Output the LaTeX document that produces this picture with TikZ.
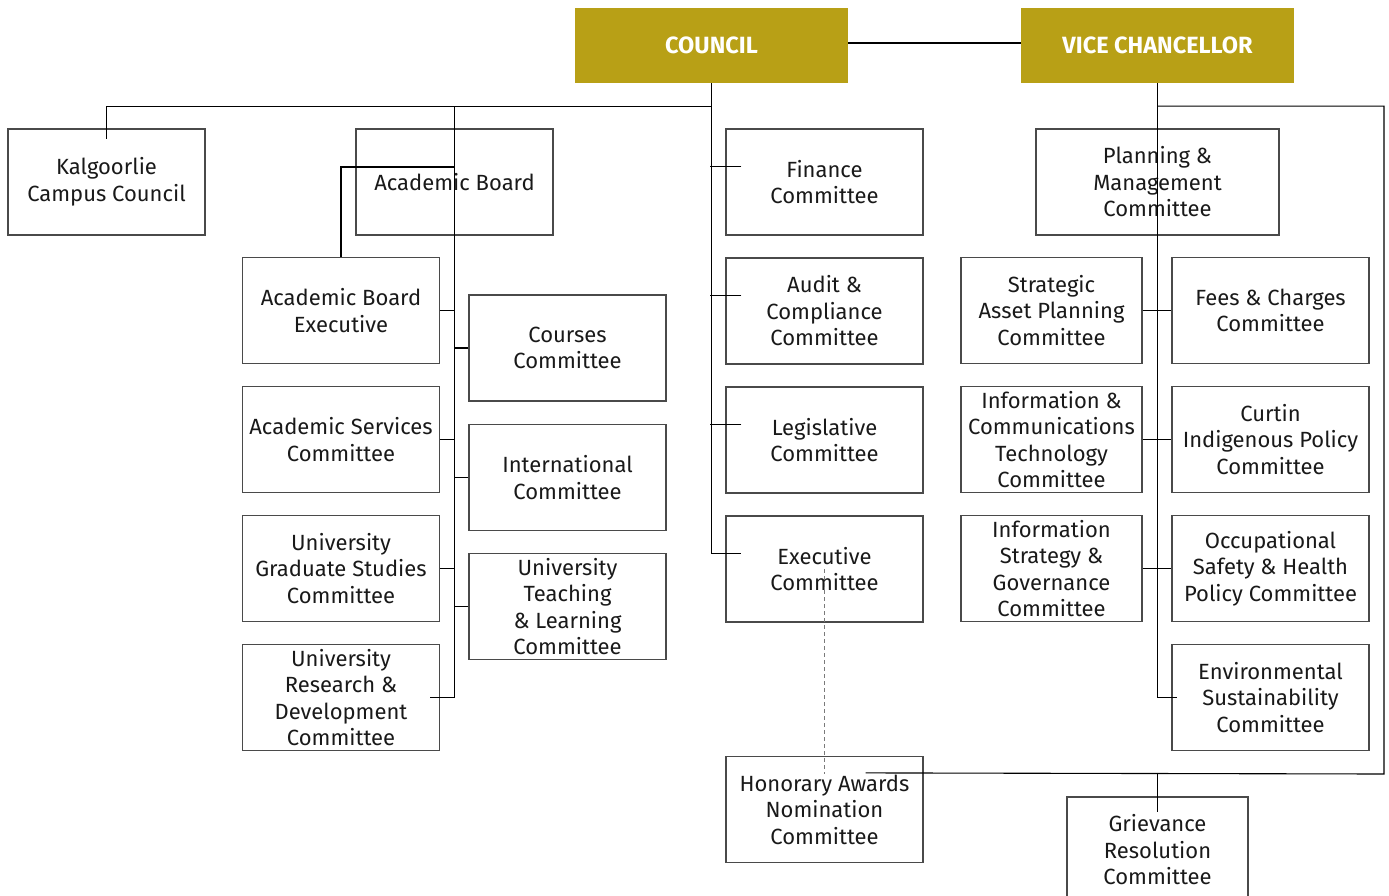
\documentclass[tikz,border=0pt]{standalone}
\usepackage{fontspec}
\setmainfont{Fira Sans}
\definecolor{councilgold}{HTML}{B8A016}
\definecolor{boxline}{HTML}{4A4A4A}
\definecolor{dashgray}{HTML}{7A7A7A}
\tikzset{
  headbox/.style={fill=councilgold, text=white, minimum width=273pt, minimum height=75pt,
    inner sep=0pt, font=\fontsize{23.5}{28}\selectfont\bfseries},
  combox/.style={draw=boxline, line width=1.2pt, minimum width=197pt, minimum height=106pt,
    inner sep=0pt, align=center, text=black!90, font=\fontsize{22}{26.5}\selectfont},
  narrowbox/.style={combox, minimum width=181pt},
  link/.style={draw=black, line width=1.1pt},
  dashlink/.style={draw=dashgray, line width=1.2pt, dash pattern=on 4pt off 3pt},
}
\begin{document}
\begin{tikzpicture}[x=1pt,y=-1pt]

    \useasboundingbox (0,0) rectangle (1389,896);

    % top of the tree
    \node[headbox] (council) at (711.5,45.5) {COUNCIL};
    \node[headbox] (vc) at (1157.5,45.5) {VICE CHANCELLOR};

    % council side
    \node[combox] (kalg) at (106.5,182) {Kalgoorlie\\Campus Council};
    \node[combox] (ab) at (454.5,182) {Academic Board};
    \node[combox] (abe) at (341,310.5) {Academic Board\\Executive};
    \node[combox] (asc) at (341,439.5) {Academic Services\\Committee};
    \node[combox] (ugs) at (341,568.5) {University\\Graduate Studies\\Committee};
    \node[combox] (urd) at (341,697.5) {University\\Research \&\\Development\\Committee};
    \node[combox] (cc) at (567.5,348) {Courses\\Committee};
    \node[combox] (ic) at (567.5,477.5) {International\\Committee};
    \node[combox] (utl) at (567.5,606.5) {University\\Teaching\\\& Learning\\Committee};
    \node[combox] (fin) at (824.5,182) {Finance\\Committee};
    \node[combox] (aud) at (824.5,311) {Audit \&\\Compliance\\Committee};
    \node[combox] (leg) at (824.5,440) {Legislative\\Committee};
    \node[combox] (exe) at (824.5,569) {Executive\\Committee};
    \node[combox] (han) at (824.5,809.5) {Honorary Awards\\Nomination\\Committee};

    % vice chancellor side
    \node[combox, minimum width=243pt] (pmc) at (1157.5,182) {Planning \&\\Management\\Committee};
    \node[narrowbox] (sap) at (1051.5,310.5) {Strategic\\Asset Planning\\Committee};
    \node[narrowbox] (ict) at (1051.5,439.5) {Information \&\\Communications\\Technology\\Committee};
    \node[narrowbox] (isg) at (1051.5,568.5) {Information\\Strategy \&\\Governance\\Committee};
    \node[combox] (fcc) at (1270.5,310.5) {Fees \& Charges\\Committee};
    \node[combox] (cip) at (1270.5,439.5) {Curtin\\Indigenous Policy\\Committee};
    \node[combox] (osh) at (1270.5,568.5) {Occupational\\Safety \& Health\\Policy Committee};
    \node[combox] (esc) at (1270.5,697.5) {Environmental\\Sustainability\\Committee};
    \node[narrowbox] (grc) at (1157.5,850) {Grievance\\Resolution\\Committee};

    % connectors
    \coordinate (cjoin) at ([yshift=-23pt]council.south);
    \coordinate (vjoin) at ([yshift=-23pt]vc.south);
    \coordinate (hanend) at ([xshift=-58pt,yshift=-17pt]han.north east);
    \coordinate (rcorner) at (1384,774);

    \draw[link] ([yshift=2.5pt]council.east) -- ([yshift=2.5pt]vc.west);
    \draw[link] (cjoin) -| ([yshift=-11pt]kalg.north);
    \draw[link] (ab.center |- cjoin) -- (ab.center |- urd.east) -- ([xshift=-10pt]urd.east);
    \draw[link] ([yshift=15pt]ab.center) -| (abe.north);
    \foreach \n in {abe,asc,ugs} \draw[link] (\n.east) -- (\n.east -| ab.center);
    \foreach \n in {cc,ic,utl} \draw[link] (\n.west) -- (\n.west -| ab.center);

    \draw[link] (council.south) |- ([xshift=16pt,yshift=-38pt]exe.north west);
    \foreach \n in {fin,aud,leg}
        \draw[link] ([xshift=16pt,yshift=-38pt]\n.north west) -- +(-31pt,0);
    \draw[dashlink] (exe.center) -- ([yshift=-18pt]han.north);

    \draw[link] (vc.south) |- ([xshift=6pt]esc.west);
    \foreach \l/\r in {sap/fcc,ict/cip,isg/osh} \draw[link] (\l.east) -- (\r.west);
    \draw[link] (vjoin) -| (rcorner) -- (hanend);
    \draw[link] (grc.north |- hanend) -- ([yshift=-16pt]grc.north);

\end{tikzpicture}
\end{document}
